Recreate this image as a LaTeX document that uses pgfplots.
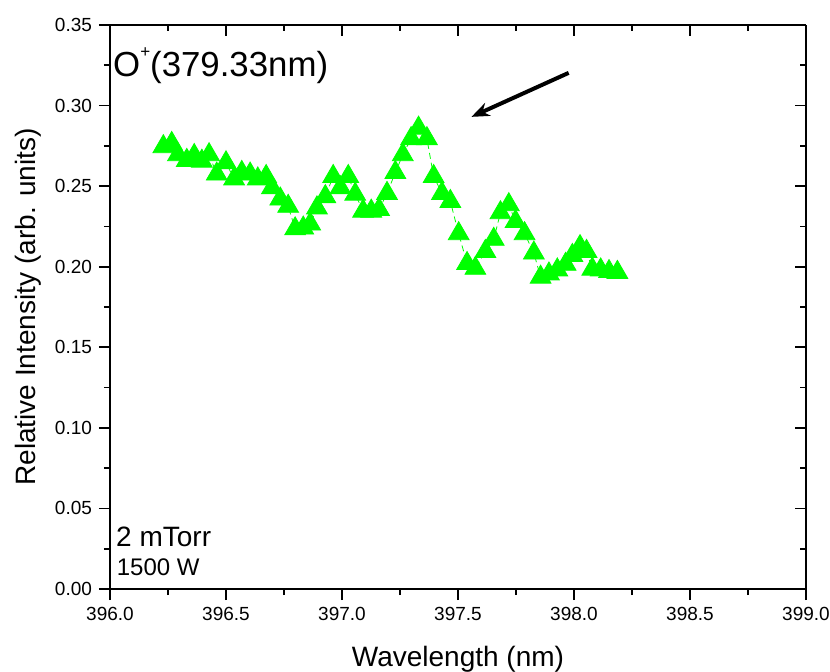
\documentclass[border=0pt]{standalone}
\usepackage{pgfplots}
\pgfplotsset{compat=1.18}
\usetikzlibrary{arrows.meta}
\usepackage{fontspec}
\setmainfont{Liberation Sans}
\definecolor{pgreen}{RGB}{0,255,0}
\begin{document}
\begin{tikzpicture}
\pgfplotsset{
  every axis/.append style={
    scale only axis, width=348pt, height=282pt,
    xmin=396, xmax=399, ymin=0, ymax=0.35,
    xtick={396,396.5,...,399}, ytick={0,0.05,...,0.35},
    minor x tick num=1, minor y tick num=1,
    major tick length=5.5pt, minor tick length=3pt,
    axis line style={line width=0.8pt}, every tick/.style={black, line width=0.8pt},
    /pgf/number format/assume math mode=true,
  }
}
\begin{axis}[at={(0,0)}, anchor=south west,
  tick align=outside, xtick pos=bottom, ytick pos=left,
  axis x line*=bottom, axis y line*=left,
  xticklabel style={/pgf/number format/.cd, fixed, fixed zerofill, precision=1},
  yticklabel style={/pgf/number format/.cd, fixed, fixed zerofill, precision=2},
  tick label style={font=\fontsize{9.5}{11}\selectfont},
  xlabel={Wavelength (nm)}, ylabel={Relative Intensity (arb. units)},
  label style={font=\fontsize{14}{16}\selectfont},
  xlabel style={yshift=-6pt}, ylabel style={yshift=0pt},
  clip=false]
\addplot[pgreen, line width=0.4pt, densely dashed, mark=triangle*, mark size=6pt,
  mark options={solid, fill=pgreen, draw=pgreen}] coordinates {
(396.230,0.2745) (396.266,0.2765) (396.293,0.2695) (396.331,0.2660) (396.363,0.2690)
(396.396,0.2655) (396.427,0.2695) (396.460,0.2575) (396.500,0.2645) (396.535,0.2545)
(396.568,0.2585) (396.604,0.2575) (396.637,0.2545) (396.673,0.2560) (396.698,0.2490)
(396.734,0.2420) (396.768,0.2375) (396.798,0.2235) (396.833,0.2240) (396.863,0.2265)
(396.892,0.2365) (396.928,0.2435) (396.962,0.2560) (396.993,0.2490) (397.027,0.2560)
(397.057,0.2450) (397.091,0.2345) (397.126,0.2345) (397.160,0.2355) (397.194,0.2455)
(397.230,0.2585) (397.262,0.2695) (397.298,0.2795) (397.330,0.2860) (397.366,0.2795)
(397.395,0.2560) (397.431,0.2455) (397.467,0.2405) (397.503,0.2205) (397.539,0.2020)
(397.575,0.1990) (397.618,0.2095) (397.654,0.2170) (397.683,0.2335) (397.719,0.2385)
(397.748,0.2280) (397.787,0.2205) (397.827,0.2085) (397.856,0.1935) (397.892,0.1955)
(397.928,0.1980) (397.964,0.2015) (397.993,0.2070) (398.026,0.2125) (398.054,0.2095)
(398.079,0.1985) (398.115,0.1980) (398.151,0.1970) (398.187,0.1965)
};
\node[anchor=west, inner sep=0pt, font=\fontsize{17.4}{19}\selectfont] at (axis cs:396.012,0.3245) {O\raisebox{0.55em}{\fontsize{8.5}{9}\selectfont +}(379.33nm)};
\node[anchor=west, inner sep=0pt, font=\fontsize{14}{16}\selectfont] at (axis cs:396.025,0.0325) {2 mTorr};
\node[anchor=west, inner sep=0pt, font=\fontsize{12}{14}\selectfont] at (axis cs:396.028,0.0138) {1500 W};
\draw[line width=2pt, -{Stealth[length=9pt,width=7pt]}] (axis cs:397.977,0.3203) -- (axis cs:397.558,0.2930);
\end{axis}
\begin{axis}[at={(0,0)}, anchor=south west,
  tick align=inside, xtick pos=top, ytick pos=right,
  axis x line*=top, axis y line*=right,
  xticklabels={}, yticklabels={}]
\end{axis}
\pgfresetboundingbox
\useasboundingbox (-55pt,-41pt) rectangle (360pt,294.5pt);
\end{tikzpicture}
\end{document}
